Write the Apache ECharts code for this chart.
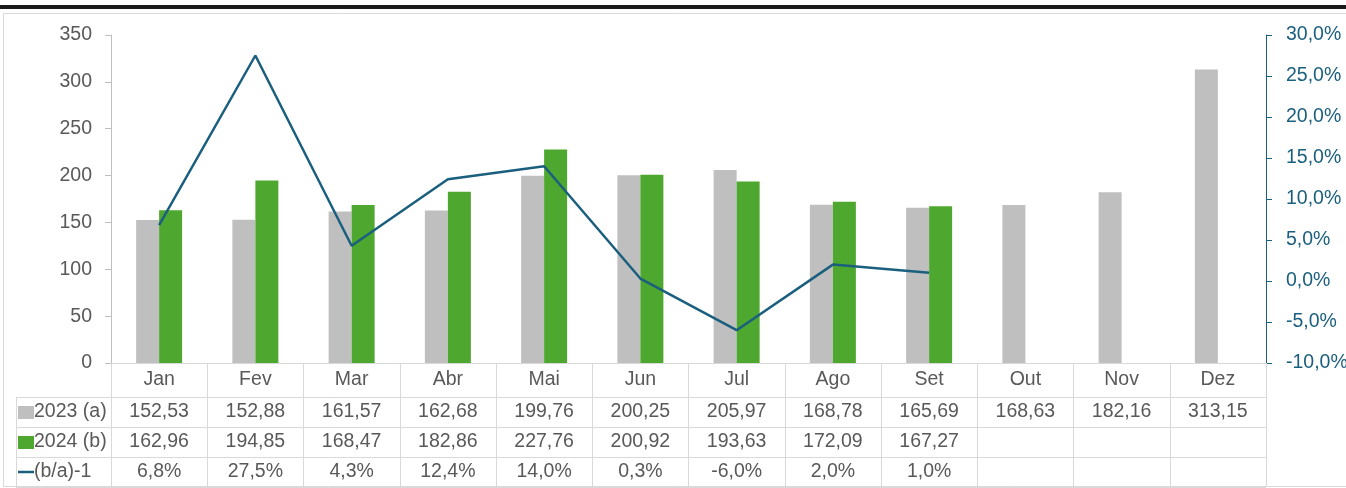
<!DOCTYPE html>
<html>
<head>
<meta charset="utf-8">
<script src="https://cdn.jsdelivr.net/npm/echarts@6/dist/echarts.min.js"></script>
<style>
  html, body { margin: 0; padding: 0; background: #fff; }
  #chart { width: 1346px; height: 488px; }
</style>
</head>
<body>
<div id="chart"></div>
<script>
// data
const months = ['Jan', 'Fev', 'Mar', 'Abr', 'Mai', 'Jun', 'Jul', 'Ago', 'Set', 'Out', 'Nov', 'Dez'];
const values2023 = [152.53, 152.88, 161.57, 162.68, 199.76, 200.25, 205.97, 168.78, 165.69, 168.63, 182.16, 313.15];
const values2024 = [162.96, 194.85, 168.47, 182.86, 227.76, 200.92, 193.63, 172.09, 167.27, null, null, null];
const ratio = [6.8, 27.5, 4.3, 12.4, 14.0, 0.3, -6.0, 2.0, 1.0, null, null, null];
const rowNames = ['2023 (a)', '2024 (b)', '(b/a)-1'];

const GREY = '#bfbfbf';
const GREEN = '#4ea72e';
const BLUE = '#1b5f7f';
const TXT = '#595959';
const LINE = '#d9d9d9';
const FONT = '"Liberation Sans", Arial, sans-serif';
const FS = 19.5;

// layout
const gLeft = 111, gRight = 1266, gTop = 35, gBottom = 363;
const rowH = 30, firstRow = 397, tableLeft = 16;

const comma = (v, d) => v.toFixed(d).replace('.', ',');
const fmtNum = v => (v == null ? '' : comma(v, 2));
const fmtPct = v => (v == null ? '' : comma(v, 1) + '%');

const rows = [values2023.map(fmtNum), values2024.map(fmtNum), ratio.map(fmtPct)];

const chart = echarts.init(document.getElementById('chart'), null, { renderer: 'canvas' });

// header axis + one hidden-line axis per table row
const xAxes = [{
  type: 'category',
  data: months,
  position: 'bottom',
  axisLine: { lineStyle: { color: LINE, width: 1 } },
  axisTick: { show: true, length: 124, lineStyle: { color: LINE } },
  axisLabel: { color: TXT, fontSize: FS, fontFamily: FONT, margin: 7 }
}];
rows.forEach((r, i) => {
  xAxes.push({
    type: 'category',
    data: r,
    position: 'bottom',
    offset: firstRow - gBottom + i * rowH,
    axisLine: { show: false },
    axisTick: { show: false },
    axisLabel: { color: TXT, fontSize: FS, fontFamily: FONT, margin: 5, interval: 0 }
  });
});

// table frame lines and row labels
const graphic = [
  { type: 'rect', shape: { x: 3.5, y: 13.5, width: 1350, height: 473 }, style: { fill: 'none', stroke: LINE, lineWidth: 1 }, z: 0 },
  { type: 'rect', shape: { x: 0, y: 5, width: 1346, height: 4 }, style: { fill: '#1a1a1a' } },
  { type: 'line', shape: { x1: tableLeft + 0.5, y1: firstRow, x2: tableLeft + 0.5, y2: firstRow + 3 * rowH }, style: { stroke: LINE } }
];
for (let i = 0; i <= 3; i++) {
  const y = firstRow + i * rowH + 0.5;
  graphic.push({ type: 'line', shape: { x1: tableLeft, y1: y, x2: gRight, y2: y }, style: { stroke: LINE } });
}
rowNames.forEach((name, i) => {
  const cy = firstRow + i * rowH + rowH / 2;
  if (i < 2) {
    graphic.push({ type: 'rect', shape: { x: 18, y: cy - 6, width: 16, height: 13 }, style: { fill: i === 0 ? GREY : GREEN } });
  } else {
    graphic.push({ type: 'line', shape: { x1: 18, y1: cy, x2: 34, y2: cy }, style: { stroke: BLUE, lineWidth: 2.5 } });
  }
  graphic.push({
    type: 'text', x: 34, y: cy,
    style: { text: name, fill: TXT, font: FS + 'px ' + FONT, verticalAlign: 'middle' }
  });
});

chart.setOption({
  animation: false,
  backgroundColor: '#fff',
  grid: {
    left: gLeft, right: 1346 - gRight, top: gTop, bottom: 488 - gBottom,
    containLabel: false, outerBoundsMode: 'none'
  },
  xAxis: xAxes,
  yAxis: [{
    type: 'value', min: 0, max: 350, interval: 50,
    axisLine: { show: true, lineStyle: { color: GREY } },
    axisTick: { show: true, length: 6, lineStyle: { color: GREY } },
    splitLine: { show: false },
    axisLabel: { color: TXT, fontSize: FS, fontFamily: FONT, margin: 19 }
  }, {
    type: 'value', min: -10, max: 30, interval: 5,
    position: 'right',
    axisLine: { show: true, lineStyle: { color: BLUE } },
    axisTick: { show: true, length: 6, lineStyle: { color: BLUE } },
    splitLine: { show: false },
    axisLabel: { color: BLUE, fontSize: FS, fontFamily: FONT, margin: 20, formatter: v => comma(v, 1) + '%' }
  }],
  series: [{
    name: '2023 (a)', type: 'bar', data: values2023,
    barWidth: 23, barGap: '0%',
    itemStyle: { color: GREY }
  }, {
    name: '2024 (b)', type: 'bar', data: values2024,
    barWidth: 23,
    itemStyle: { color: GREEN }
  }, {
    name: '(b/a)-1', type: 'line', data: ratio, yAxisIndex: 1,
    symbol: 'none', connectNulls: false,
    lineStyle: { color: BLUE, width: 2.5 }, z: 5
  }],
  graphic: graphic
});
</script>
</body>
</html>
